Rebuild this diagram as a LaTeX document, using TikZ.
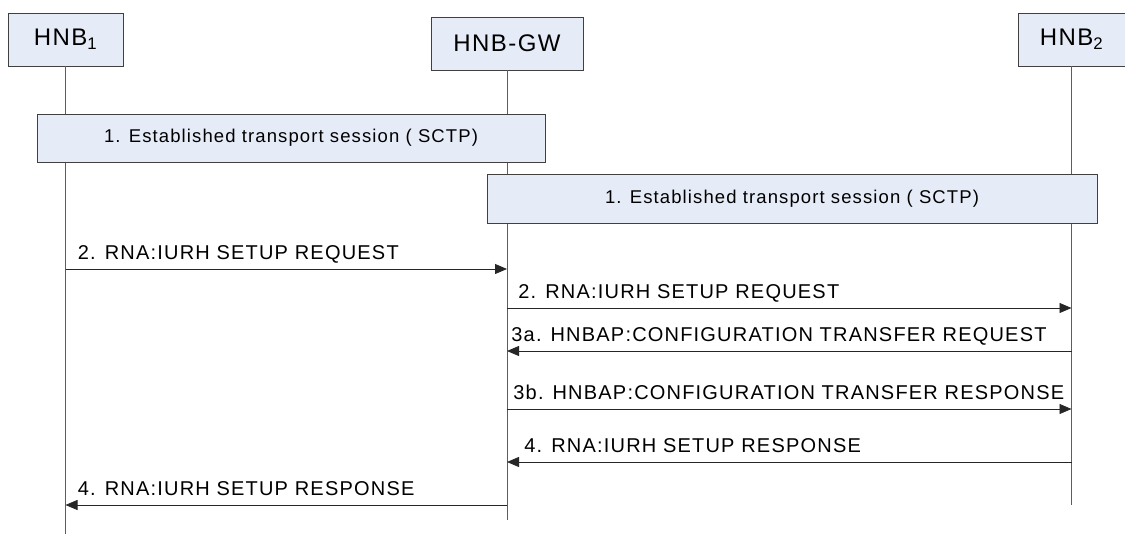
\documentclass[tikz,border=0pt]{standalone}
\usepackage{fontspec}
\setmainfont{Liberation Sans}[LetterSpace=6]
\usetikzlibrary{arrows.meta}
\definecolor{boxfill}{RGB}{230,236,247}
\definecolor{edge}{RGB}{64,64,64}

\begin{document}
\begin{tikzpicture}[
    x = 1pt, y = -1pt,
    entity/.style = {
        draw = edge,
        fill = boxfill,
        rectangle,
        minimum height = 53pt,
        inner sep = 0pt,
        font = \fontsize{24}{28}\selectfont
    },
    session/.style = {
        draw = edge,
        fill = boxfill,
        rectangle,
        inner sep = 0pt,
        font = \fontsize{18.5}{22}\selectfont
    },
    lifeline/.style = {draw = edge!85, line width = 0.8pt},
    msg/.style = {-{Triangle[length = 12pt, width = 10pt]}, line width = 0.8pt, draw = black!85},
    msglabel/.style = {
        anchor = base west,
        inner sep = 0pt,
        font = \fontsize{20}{24}\selectfont
    }
]

\useasboundingbox (0, 0) rectangle (1125, 534);

% Entities
\node[entity, minimum width = 115pt] (hnb1) at (65.5, 39.5) {HNB\textsubscript{1}};
\node[entity, minimum width = 152pt] (gw) at (507, 43.5) {HNB-GW};
\node[entity, minimum width = 107pt] (hnb2) at (1071.5, 39.5) {HNB\textsubscript{2}};

% Lifelines
\coordinate (hnb1 end) at (65.5, 534);
\coordinate (gw end) at (507, 520);
\coordinate (hnb2 end) at (1071.5, 505);
\draw[lifeline] (hnb1.south) -- (hnb1 end);
\draw[lifeline] (gw.south) -- (gw end);
\draw[lifeline] (hnb2.south) -- (hnb2 end);

% SCTP sessions
\node[session, minimum width = 508pt, minimum height = 48pt] (sctp1) at (291, 138)
    {1. Established transport session ( SCTP)};
\node[session, minimum width = 610pt, minimum height = 49pt] (sctp2) at (792, 198.5)
    {1. Established transport session ( SCTP)};

% Messages
\draw[msg] (hnb1 |- 0,269) -- (gw |- 0,269)
    node[msglabel, at start, xshift = 12pt, yshift = 9pt] {2. RNA:IURH SETUP REQUEST};
\draw[msg] (gw |- 0,308) -- (hnb2 |- 0,308)
    node[msglabel, at start, xshift = 11pt, yshift = 9pt] {2. RNA:IURH SETUP REQUEST};
\draw[msg] (hnb2 |- 0,351) -- (gw |- 0,351)
    node[msglabel, at end, xshift = 4pt, yshift = 9pt] {3a. HNBAP:CONFIGURATION TRANSFER REQUEST};
\draw[msg] (gw |- 0,409) -- (hnb2 |- 0,409)
    node[msglabel, at start, xshift = 6pt, yshift = 9pt] {3b. HNBAP:CONFIGURATION TRANSFER RESPONSE};
\draw[msg] (hnb2 |- 0,462) -- (gw |- 0,462)
    node[msglabel, at end, xshift = 17pt, yshift = 9pt] {4. RNA:IURH SETUP RESPONSE};
\draw[msg] (gw |- 0,505) -- (hnb1 |- 0,505)
    node[msglabel, at end, xshift = 12pt, yshift = 9pt] {4. RNA:IURH SETUP RESPONSE};

\end{tikzpicture}
\end{document}
